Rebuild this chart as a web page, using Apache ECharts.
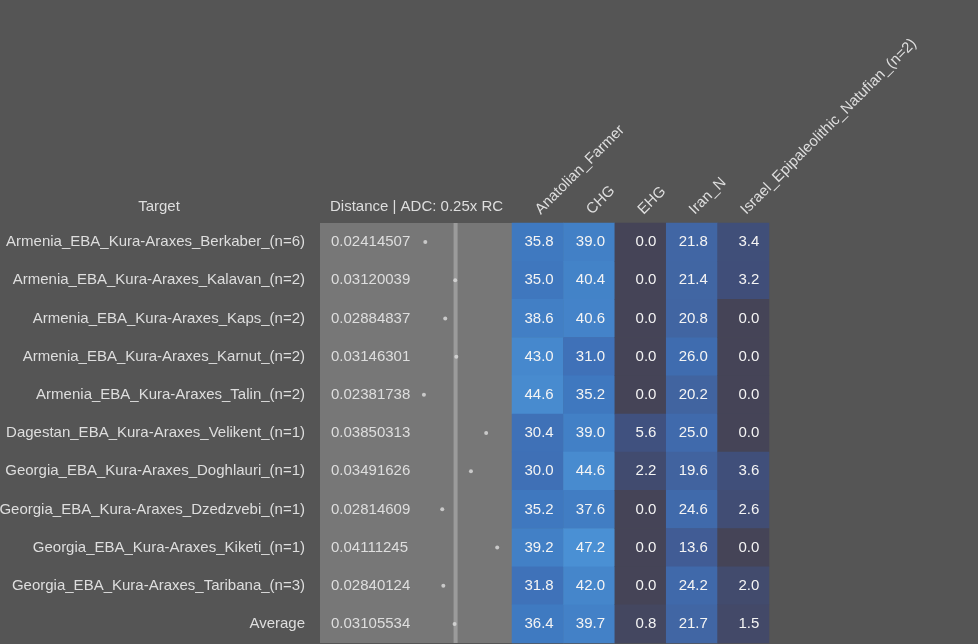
<!DOCTYPE html>
<html>
<head>
<meta charset="utf-8">
<script src="https://cdn.jsdelivr.net/npm/echarts@6/dist/echarts.min.js"></script>
<style>
  html, body { margin: 0; padding: 0; background: #555555; }
  #chart { width: 978px; height: 644px; }
</style>
</head>
<body>
<div id="chart"></div>
<script>
// ---------------- data ----------------
var targets = [
    'Armenia_EBA_Kura-Araxes_Berkaber_(n=6)',
    'Armenia_EBA_Kura-Araxes_Kalavan_(n=2)',
    'Armenia_EBA_Kura-Araxes_Kaps_(n=2)',
    'Armenia_EBA_Kura-Araxes_Karnut_(n=2)',
    'Armenia_EBA_Kura-Araxes_Talin_(n=2)',
    'Dagestan_EBA_Kura-Araxes_Velikent_(n=1)',
    'Georgia_EBA_Kura-Araxes_Doghlauri_(n=1)',
    'Georgia_EBA_Kura-Araxes_Dzedzvebi_(n=1)',
    'Georgia_EBA_Kura-Araxes_Kiketi_(n=1)',
    'Georgia_EBA_Kura-Araxes_Taribana_(n=3)',
    'Average'
];
var sources = ['Anatolian_Farmer', 'CHG', 'EHG', 'Iran_N', 'Israel_Epipaleolithic_Natufian_(n=2)'];

var distances = [0.02414507, 0.03120039, 0.02884837, 0.03146301, 0.02381738, 0.03850313,
                 0.03491626, 0.02814609, 0.04111245, 0.02840124, 0.03105534];

var anatolianFarmer = [35.8, 35.0, 38.6, 43.0, 44.6, 30.4, 30.0, 35.2, 39.2, 31.8, 36.4];
var chg             = [39.0, 40.4, 40.6, 31.0, 35.2, 39.0, 44.6, 37.6, 47.2, 42.0, 39.7];
var ehg             = [0.0, 0.0, 0.0, 0.0, 0.0, 5.6, 2.2, 0.0, 0.0, 0.0, 0.8];
var iranN           = [21.8, 21.4, 20.8, 26.0, 20.2, 25.0, 19.6, 24.6, 13.6, 24.2, 21.7];
var natufian        = [3.4, 3.2, 0.0, 0.0, 0.0, 0.0, 3.6, 2.6, 0.0, 2.0, 1.5];

var columns = [anatolianFarmer, chg, ehg, iranN, natufian];
var avgIndex = targets.length - 1;

// heatmap cells [col, row, value]
var cells = [];
columns.forEach(function (col, c) {
    col.forEach(function (v, r) { cells.push([c, r, v]); });
});

var FONT = 'Liberation Sans, Arial, sans-serif';
var TXT = '#dedede';

var chart = echarts.init(document.getElementById('chart'));

// 平均距离的竖条：贯穿整个距离列
function renderAvgBar(params, api) {
    var cs = params.coordSys;
    var x = api.coord([api.value(0), 0])[0];
    return {
        type: 'rect',
        shape: { x: x - 1, y: cs.y, width: 4, height: cs.height },
        style: { fill: '#9b9b9b' }
    };
}

chart.setOption({
    backgroundColor: '#555555',
    animation: false,
    textStyle: { fontFamily: FONT },
    graphic: [
        { type: 'text', style: { text: 'Target', fill: TXT, font: '15px ' + FONT, x: 159, y: 207, textAlign: 'center', textVerticalAlign: 'middle' } },
        { type: 'text', style: { text: 'Distance | ADC: 0.25x RC', fill: TXT, font: '15px ' + FONT, x: 330, y: 207, textAlign: 'left', textVerticalAlign: 'middle' } }
    ],
    grid: [
        // distance column
        { left: 320, top: 223, width: 192, height: 420, show: true, backgroundColor: '#777777', borderWidth: 0, outerBoundsMode: 'none' },
        // admixture heatmap
        { left: 512, top: 223, width: 257, height: 420, outerBoundsMode: 'none' }
    ],
    xAxis: [
        { gridIndex: 0, type: 'value', min: -0.0007, max: 0.0446, show: false },
        {
            gridIndex: 1, type: 'category', data: sources, position: 'top',
            axisLine: { show: false }, axisTick: { show: false }, splitLine: { show: false },
            axisLabel: { rotate: -45, margin: 11, color: TXT, fontSize: 15, fontFamily: FONT, interval: 0 }
        }
    ],
    yAxis: [
        {
            gridIndex: 0, type: 'category', data: targets, inverse: true,
            axisLine: { show: false }, axisTick: { show: false }, splitLine: { show: false },
            axisLabel: { margin: 15, color: TXT, fontSize: 15, fontFamily: FONT, interval: 0 }
        },
        {
            gridIndex: 0, type: 'category', data: distances.map(function (d) { return d.toFixed(8); }),
            inverse: true, position: 'left',
            axisLine: { show: false }, axisTick: { show: false }, splitLine: { show: false },
            axisLabel: { inside: true, margin: 11, color: TXT, fontSize: 15, fontFamily: FONT, interval: 0 }
        },
        {
            gridIndex: 1, type: 'category', data: targets, inverse: true, show: false
        }
    ],
    visualMap: {
        show: false, type: 'continuous', min: 0, max: 48, seriesIndex: 2,
        inRange: {
            color: ['#454457', '#404e78', '#405280', '#40568a', '#405a92', '#415d97', '#41619c',
                    '#4165a2', '#4069aa', '#3f6db1', '#3f70b6', '#3f74bb', '#3f79c0', '#4280c6',
                    '#4586cb', '#488cd0', '#4b91d5']
        }
    },
    series: [
        {
            type: 'custom', xAxisIndex: 0, yAxisIndex: 0,
            renderItem: renderAvgBar,
            data: [[distances[avgIndex], avgIndex]],
            silent: true,
            z: 1
        },
        {
            type: 'scatter', xAxisIndex: 0, yAxisIndex: 0,
            data: distances.map(function (d, i) { return [d, i]; }),
            symbolSize: 4,
            itemStyle: { color: '#dddddd' },
            z: 3
        },
        {
            type: 'heatmap', xAxisIndex: 1, yAxisIndex: 2,
            data: cells,
            label: {
                show: true, position: 'insideRight', distance: 10,
                color: '#f4f4f4', fontSize: 15, fontFamily: FONT,
                formatter: function (p) { return p.value[2].toFixed(1); }
            },
            emphasis: { disabled: true }
        }
    ]
});
</script>
</body>
</html>
